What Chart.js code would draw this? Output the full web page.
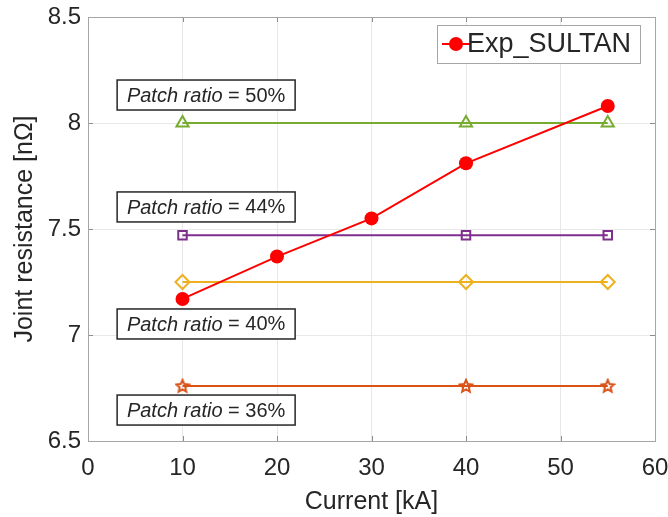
<!DOCTYPE html>
<html>
<head>
<meta charset="utf-8">
<script src="https://cdn.jsdelivr.net/npm/chart.js@4.4.1/dist/chart.umd.min.js"></script>
<style>
  html, body { margin: 0; padding: 0; background: #fff; }
  #wrap { width: 668px; height: 517px; }
</style>
</head>
<body>
<div id="wrap"><canvas id="jointChart"></canvas></div>
<script>
const currents = [10, 20, 30, 40, 55];
const expSultan = [7.17, 7.37, 7.55, 7.81, 8.08];
const simCurrents = [10, 40, 55];
const ratio50 = [8.0, 8.0, 8.0];
const ratio44 = [7.47, 7.47, 7.47];
const ratio40 = [7.25, 7.25, 7.25];
const ratio36 = [6.76, 6.76, 6.76];
const ratioLabels = ["50%", "44%", "40%", "36%"];
const xTicks = [0, 10, 20, 30, 40, 50, 60];
const yTicks = [6.5, 7, 7.5, 8, 8.5];

// where the "Patch ratio" boxes sit, in data units
const labelX = 12.5;
const labelY = [8.132, 7.604, 7.052, 6.646];

const FONT = "'Liberation Sans', Arial, Helvetica, sans-serif";
const TXT = "#262626";

const pts = (xs, ys) => xs.map((x, i) => ({ x: x, y: ys[i] }));

// pentagram marker
const starImg = document.createElement("canvas");
starImg.width = 16;
starImg.height = 16;
(() => {
    const c = starImg.getContext("2d");
    c.beginPath();
    for (let i = 0; i < 10; i++) {
        const r = i % 2 === 0 ? 6.5 : 3;
        const a = -Math.PI / 2 + i * Math.PI / 5;
        const px = 8 + r * Math.cos(a), py = 8.5 + r * Math.sin(a);
        if (i === 0) c.moveTo(px, py); else c.lineTo(px, py);
    }
    c.closePath();
    c.strokeStyle = "#d95319";
    c.lineWidth = 2;
    c.stroke();
})();

const simSet = (data, color, style, radius) => ({
    data: pts(simCurrents, data),
    borderColor: color,
    backgroundColor: "#ffffff",
    pointBorderColor: color,
    pointBackgroundColor: "rgba(255,255,255,0)",
    pointStyle: style,
    pointRadius: radius,
    pointBorderWidth: 2,
    borderWidth: 2,
    order: 2,
});

const framePlugin = {
    id: "frame",
    afterDatasetsDraw(chart) {
        const { ctx, chartArea: a, scales } = chart;
        ctx.save();
        // inner tick marks on all four sides
        ctx.strokeStyle = "#8c8c8c";
        ctx.lineWidth = 1;
        xTicks.forEach(v => {
            const px = Math.round(scales.x.getPixelForValue(v)) + 0.5;
            ctx.beginPath();
            ctx.moveTo(px, a.bottom); ctx.lineTo(px, a.bottom - 5);
            ctx.moveTo(px, a.top); ctx.lineTo(px, a.top + 5);
            ctx.stroke();
        });
        yTicks.forEach(v => {
            const py = Math.round(scales.y.getPixelForValue(v)) + 0.5;
            ctx.beginPath();
            ctx.moveTo(a.left, py); ctx.lineTo(a.left + 5, py);
            ctx.moveTo(a.right, py); ctx.lineTo(a.right - 5, py);
            ctx.stroke();
        });
        ctx.strokeStyle = "#a6a6a6";
        ctx.strokeRect(a.left + 0.5, a.top + 0.5, a.right - a.left, a.bottom - a.top);

        // patch ratio boxes
        ratioLabels.forEach((lab, i) => {
            const cx = scales.x.getPixelForValue(labelX);
            const cy = scales.y.getPixelForValue(labelY[i]);
            const w = 178, h = 30;
            ctx.fillStyle = "#ffffff";
            ctx.fillRect(cx - w / 2, cy - h / 2, w, h);
            ctx.strokeStyle = "#262626";
            ctx.lineWidth = 1.5;
            ctx.strokeRect(cx - w / 2, cy - h / 2, w, h);
            ctx.fillStyle = TXT;
            ctx.textBaseline = "middle";
            ctx.textAlign = "left";
            ctx.font = "italic 20px " + FONT;
            const part1 = "Patch ratio";
            const part2 = " = " + lab;
            const w1 = ctx.measureText(part1).width;
            ctx.font = "20px " + FONT;
            const w2 = ctx.measureText(part2).width;
            const sx = cx - (w1 + w2) / 2;
            ctx.font = "italic 20px " + FONT;
            ctx.fillText(part1, sx, cy + 1);
            ctx.font = "20px " + FONT;
            ctx.fillText(part2, sx + w1, cy + 1);
        });

        // legend
        const lx = 437, ly = 25, lw = 203, lh = 38;
        ctx.fillStyle = "#ffffff";
        ctx.fillRect(lx, ly, lw, lh);
        ctx.strokeStyle = "#a6a6a6";
        ctx.lineWidth = 1;
        ctx.strokeRect(lx + 0.5, ly + 0.5, lw, lh);
        ctx.strokeStyle = "#ff0000";
        ctx.lineWidth = 2;
        ctx.beginPath();
        ctx.moveTo(442, ly + lh / 2); ctx.lineTo(470, ly + lh / 2);
        ctx.stroke();
        ctx.fillStyle = "#ff0000";
        ctx.beginPath();
        ctx.arc(456, ly + lh / 2, 7, 0, Math.PI * 2);
        ctx.fill();
        ctx.fillStyle = TXT;
        ctx.font = "27px " + FONT;
        ctx.textAlign = "left";
        ctx.textBaseline = "middle";
        ctx.fillText("Exp_SULTAN", 467, ly + lh / 2 + 1);
        ctx.restore();
    },
};

new Chart(document.getElementById("jointChart"), {
    type: "line",
    data: {
        datasets: [
            {
                label: "Exp_SULTAN",
                data: pts(currents, expSultan),
                borderColor: "#ff0000",
                backgroundColor: "#ff0000",
                pointBackgroundColor: "#ff0000",
                pointBorderColor: "#ff0000",
                pointRadius: 7,
                pointBorderWidth: 0,
                borderWidth: 2,
                order: 1,
            },
            simSet(ratio50, "#77ac30", "triangle", 7),
            simSet(ratio44, "#7e2f8e", "rect", 6),
            simSet(ratio40, "#edb120", "rectRot", 7),
            Object.assign(simSet(ratio36, "#d95319", starImg, 7), { pointBorderWidth: 0 }),
        ],
    },
    options: {
        responsive: true,
        maintainAspectRatio: false,
        animation: false,
        layout: { padding: { top: 17, right: 13, left: 0, bottom: 0 } },
        plugins: {
            legend: { display: false },
            tooltip: { enabled: false },
        },
        elements: { line: { tension: 0 } },
        scales: {
            x: {
                type: "linear",
                min: 0,
                max: 60,
                afterBuildTicks: s => { s.ticks = xTicks.map(v => ({ value: v })); },
                afterFit: s => { s.height = 76; s.paddingLeft = 0; s.paddingRight = 0; },
                grid: { color: "#e8e8e8", drawTicks: false },
                border: { display: false },
                ticks: {
                    color: TXT,
                    padding: 13,
                    font: { family: FONT, size: 24 },
                },
                title: {
                    display: true,
                    text: "Current [kA]",
                    color: TXT,
                    padding: { top: 4, bottom: 0 },
                    font: { family: FONT, size: 25 },
                },
            },
            y: {
                min: 6.5,
                max: 8.5,
                afterBuildTicks: s => { s.ticks = yTicks.map(v => ({ value: v })); },
                afterFit: s => { s.width = 88; s.paddingTop = 0; s.paddingBottom = 0; },
                grid: { color: "#e8e8e8", drawTicks: false },
                border: { display: false },
                ticks: {
                    color: TXT,
                    padding: 7,
                    font: { family: FONT, size: 24 },
                    callback: v => String(v),
                },
                title: {
                    display: true,
                    text: "Joint resistance [nΩ]",
                    color: TXT,
                    padding: { top: 10, bottom: 2 },
                    font: { family: FONT, size: 25 },
                },
            },
        },
    },
    plugins: [framePlugin],
});
</script>
</body>
</html>
